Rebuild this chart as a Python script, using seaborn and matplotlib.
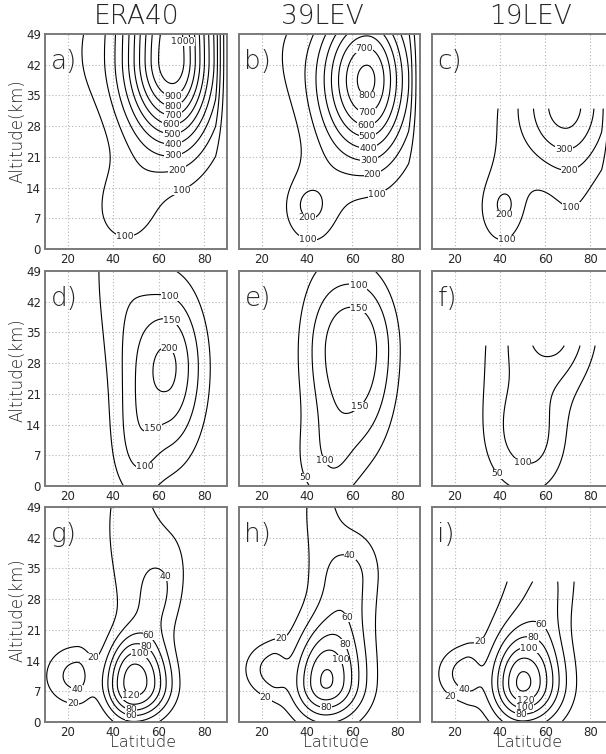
import numpy as np
import matplotlib
matplotlib.use("Agg")
import matplotlib.pyplot as plt
from matplotlib import font_manager as fm
from matplotlib.font_manager import FontProperties
import seaborn as sns

# ---------------- data ----------------
LAT_TICKS = [20, 40, 60, 80]
ALT_TICKS = [0, 7, 14, 21, 28, 35, 42, 49]
COLUMN_TITLES = ["ERA40", "39LEV", "19LEV"]
PANEL_LETTERS = ["a", "b", "c", "d", "e", "f", "g", "h", "i"]
LEVELS_ROW1 = [100, 200, 300, 400, 500, 600, 700, 800, 900, 1000]
LEVELS_ROW2 = [50, 100, 150, 200]
LEVELS_ROW3 = [20, 40, 60, 80, 100, 120, 140]
TOP_19LEV_KM = 32.2   # the 19-level model has no data above this altitude

# field features:
# (lat, alt, peak value, width south, width north, width below, width above, tilt deg/km, shape)
blobs_a = [(66, 43, 1080, 15.5, 13, 13.5, 30, 0, 2),
           (45, 9, 140, 11, 11, 7, 8, 0, 2),
           (27, 45, 60, 8, 8, 10, 10, 0, 2)]
blobs_b = [(66.5, 38.5, 830, 15.5, 13, 12.8, 12.5, 0, 2),
           (42, 9, 140, 12, 10, 8, 8, 0, 2),
           (41.5, 10, 110, 4, 4, 2.5, 2.5, 0, 2),
           (30, 46, 60, 8, 8, 10, 10, 0, 2)]
blobs_c = [(69, 33, 450, 15.5, 14, 11, 20, 0, 2),
           (41, 9, 130, 11, 9, 9, 9, 0, 2),
           (42, 10, 90, 3.5, 3.5, 2.5, 2.5, 0, 2),
           (72, 8, 55, 8, 8, 8, 8, 0, 2),
           (42, 28, 30, 6, 6, 10, 10, 0, 2)]
blobs_d = [(64, 27, 210, 14, 11, 14, 13, 0, 2),
           (50, 8, 70, 8, 7, 9, 10, 0, 2),
           (42, 52, 65, 10, 10, 15, 15, 0, 2)]
blobs_e = [(62.5, 31, 175, 15, 13, 18, 13.5, 0, 2.5),
           (50, 5, 65, 12, 8, 8, 8, 0, 2),
           (45, 30, 40, 10, 10, 15, 25, 0, 2)]
blobs_f = [(64, 37, 175, 15, 12, 10, 15, 0, 2),
           (54, 11, 115, 13, 11, 9, 10, 0, 2),
           (40, 25, 35, 10, 10, 15, 15, 0, 2)]
blobs_g = [(49, 8.5, 125, 9.5, 12, 6, 8, 0, 2.5),
           (24, 10.5, 48, 10, 5, 4.8, 5, 0, 2),
           (60, 28, 38, 10, 8, 9, 10, 0.35, 2),
           (46, 45, 28, 9, 12, 14, 14, 0, 2)]
blobs_h = [(48, 8.7, 112, 10.5, 12, 6, 9, 0, 2),
           (24.5, 12, 44, 9, 4.5, 4.5, 4.5, 0, 2),
           (58, 32, 48, 10.5, 10, 14, 8, 0.2, 2),
           (45, 49, 25, 7, 8, 10, 10, 0, 2)]
blobs_i = [(50, 8.5, 137, 10, 12, 6.3, 8, 0, 2),
           (25, 11, 48, 9, 4.5, 4.5, 4.5, 0, 2),
           (61, 30, 44, 14, 9, 12, 12, 0.25, 2)]

# contour labels as placed in the reference: (level, lat, alt)
labels_a = [(1000, 66.3, 47.1), (900, 66.3, 33.8), (800, 66.3, 31.8), (700, 66.3, 29.7),
            (600, 65.1, 27.0), (500, 65.6, 24.5), (400, 66.3, 22.5), (300, 66.3, 20.6),
            (200, 68.5, 17.3), (100, 69.3, 13.8), (100, 45.0, 2.1)]
labels_b = [(700, 65.4, 45.6), (800, 66.9, 34.0), (700, 66.9, 30.4), (600, 66.1, 27.6),
            (500, 66.9, 25.3), (400, 66.9, 23.0), (300, 67.6, 20.3), (200, 69.0, 17.2),
            (100, 70.5, 13.0), (200, 40.5, 7.4), (100, 40.5, 2.3)]
labels_c = [(300, 68.5, 22.6), (200, 70.7, 18.5), (100, 71.5, 9.7), (200, 42.0, 7.4),
            (100, 43.5, 1.4)]
labels_d = [(100, 65.6, 44.0), (150, 66.3, 38.3), (200, 65.1, 31.6), (150, 58.5, 12.0),
            (100, 54.1, 4.3)]
labels_e = [(100, 63.9, 48.2), (150, 63.9, 42.2), (150, 61.0, 19.4), (100, 48.5, 6.0),
            (50, 36.8, 1.4)]
labels_f = [(100, 50.2, 5.5), (50, 37.0, 2.0)]
labels_g = [(40, 61.9, 33.0), (60, 56.0, 20.0), (80, 53.1, 16.3), (100, 50.1, 13.0),
            (120, 47.5, 5.7), (80, 47.9, 2.1), (60, 47.9, 0.4), (20, 31.8, 15.4),
            (40, 24.4, 5.7), (20, 22.2, 4.0)]
labels_h = [(40, 58.8, 37.4), (60, 57.3, 23.7), (80, 52.9, 16.8), (100, 51.5, 13.4),
            (80, 48.6, 2.7), (20, 29.5, 17.2), (20, 22.2, 6.1)]
labels_i = [(60, 58.5, 22.3), (80, 53.4, 17.4), (100, 51.9, 14.7), (120, 51.2, 4.7),
            (100, 51.2, 2.9), (80, 49.0, 0.8), (20, 33.5, 16.8), (40, 25.4, 8.5),
            (20, 17.4, 5.3)]

PANELS = [blobs_a, blobs_b, blobs_c, blobs_d, blobs_e, blobs_f, blobs_g, blobs_h, blobs_i]
LABELS = [labels_a, labels_b, labels_c, labels_d, labels_e, labels_f, labels_g, labels_h, labels_i]
ROW_LEVELS = [LEVELS_ROW1, LEVELS_ROW2, LEVELS_ROW3]

# ---------------- field on a lat/alt grid ----------------
lat = np.linspace(10, 90, 321)
alt = np.linspace(0, 49, 197)
LAT, ALT = np.meshgrid(lat, alt)


def build_field(blobs, top=None):
    z = np.zeros_like(LAT)
    for la, al, amp, wl, wr, wd, wu, tilt, p in blobs:
        dl = LAT - (la + tilt * (ALT - al))
        da = ALT - al
        sl = np.where(dl < 0, wl, wr)
        sa = np.where(da < 0, wd, wu)
        r2 = (dl / sl) ** 2 + (da / sa) ** 2
        z += amp * np.exp(-0.5 * r2 ** (p / 2.0))
    z *= np.clip((90 - LAT) / 5.0, 0, 1) ** 0.7
    if top is not None:
        z = np.where(ALT > top, np.nan, z)
    return z


# ---------------- style ----------------
sns.set_style("white")
plt.rcParams["font.family"] = ["DejaVu Sans"]


def light_font():
    prefs = ["DejaVu Sans", "Lato", "Roboto", "Open Sans", "Noto Sans", "Inter"]
    for fam in prefs:
        best = None
        for f in fm.fontManager.ttflist:
            if not f.name.startswith(fam) or f.style != "normal":
                continue
            try:
                w = int(f.weight)
            except (TypeError, ValueError):
                w = {"ultralight": 200, "light": 300, "thin": 100,
                     "extra light": 200}.get(str(f.weight).lower(), 400)
            if 150 <= w <= 300:
                if best is None or abs(w - 250) < abs(best[0] - 250):
                    best = (w, f.fname)
        if best:
            return best[1]
    return None


LIGHT = light_font()


def lfp(size):
    if LIGHT:
        return FontProperties(fname=LIGHT, size=size)
    return FontProperties(family="DejaVu Sans", size=size)


def place_labels(ax, cs, labels):
    # put each label on the nearest point of its own contour level
    levels = list(cs.levels)
    paths = cs.get_paths()
    sx, sy = 2.27, 4.39  # pixels per degree / per km, for distances
    for lev, lx, ly in labels:
        if lev not in levels:
            continue
        v = paths[levels.index(lev)].vertices
        if len(v) == 0:
            continue
        d = ((v[:, 0] - lx) * sx) ** 2 + ((v[:, 1] - ly) * sy) ** 2
        j = int(np.argmin(d))
        ax.text(v[j, 0], v[j, 1], f"{lev}", ha="center", va="center", fontsize=6.7,
                zorder=5, bbox=dict(facecolor="white", edgecolor="none", pad=0.05))


W, H = 606, 754
fig = plt.figure(figsize=(W / 100, H / 100), dpi=100)
fig.patch.set_facecolor("white")

col_left = [45, 239, 432]
col_width = [182, 181, 181]
row_top = [34, 271, 507]
row_h = 215

for k, blobs in enumerate(PANELS):
    r, c = divmod(k, 3)
    x0, y0 = col_left[c], row_top[r]
    ax = fig.add_axes([x0 / W, 1 - (y0 + row_h) / H, col_width[c] / W, row_h / H])
    top = TOP_19LEV_KM if c == 2 else None
    z = build_field(blobs, top)
    cs = ax.contour(lat, alt, z, levels=ROW_LEVELS[r], colors="black", linewidths=0.8)
    place_labels(ax, cs, LABELS[k])
    ax.set_xlim(10, 90)
    ax.set_ylim(0, 49)
    ax.set_xticks(LAT_TICKS)
    ax.set_yticks(ALT_TICKS)
    ax.grid(True, linestyle=(0, (1, 2)), color="#b5b5b5", linewidth=0.8)
    ax.tick_params(axis="both", length=2, width=0.8, color="#777777",
                   labelsize=8.5, pad=0.8, direction="out")
    if c != 0:
        ax.set_yticklabels([])
    for s in ax.spines.values():
        s.set_color("#7a7a7a")
        s.set_linewidth(1.4)
    ax.text(0.03, 0.93, PANEL_LETTERS[k] + ")", transform=ax.transAxes,
            va="top", ha="left", fontproperties=lfp(19))

title_x = [137, 322, 530]
for c, t in enumerate(COLUMN_TITLES):
    fig.text(title_x[c] / W, 1 - 16 / H, t, ha="center", va="center", fontproperties=lfp(19))

for yc in [131, 370, 610]:
    fig.text(18 / W, 1 - yc / H, "Altitude(km)", rotation=90, ha="center", va="center",
             fontproperties=lfp(12))

for xc in [143, 336, 529]:
    fig.text(xc / W, 1 - 747 / H, "Latitude", ha="center", va="baseline",
             fontproperties=lfp(11.5))

fig.savefig("out.png", dpi=100, facecolor="white")
